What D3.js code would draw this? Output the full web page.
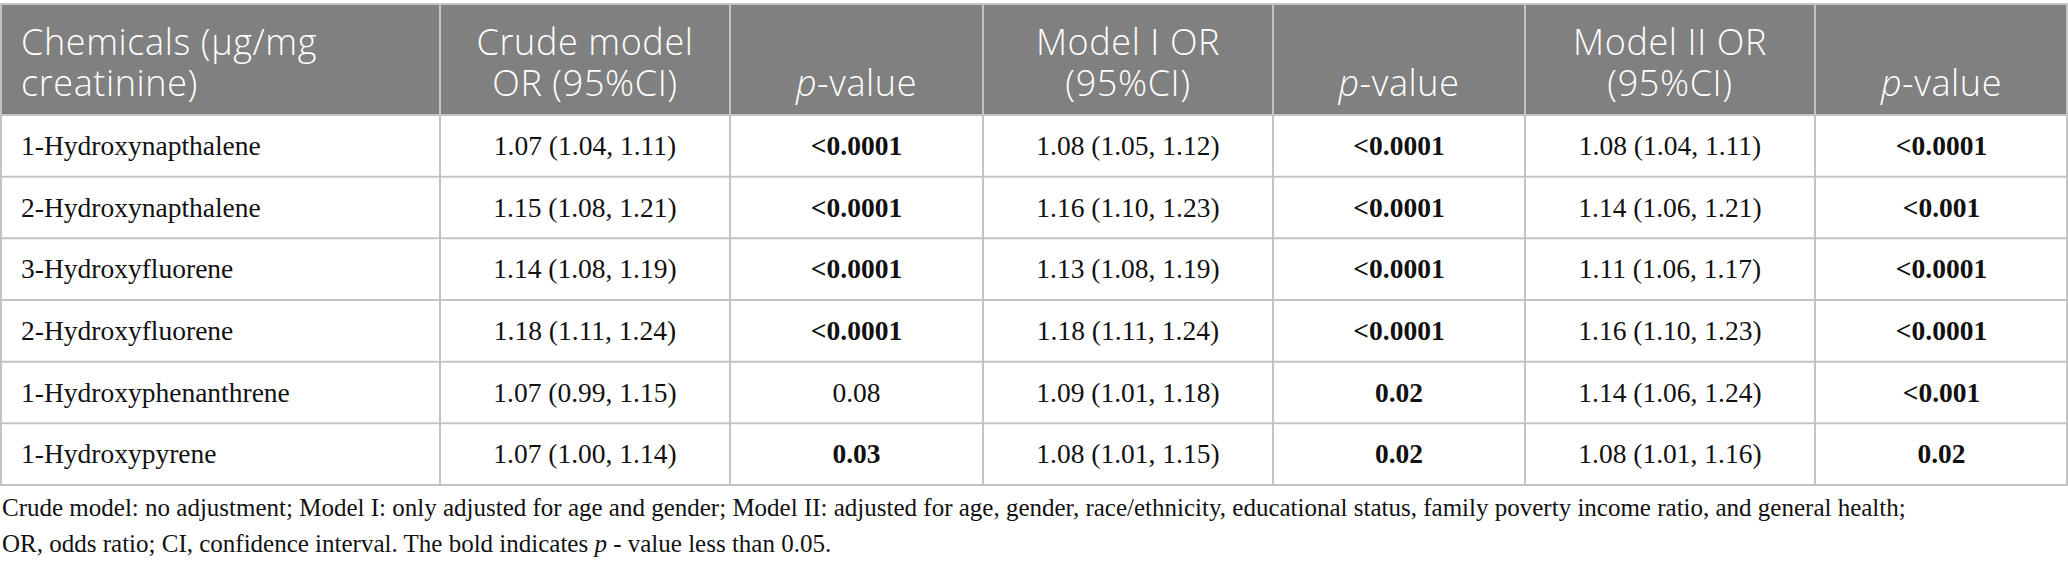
<!DOCTYPE html>
<html>
<head>
<meta charset="utf-8">
<script src="https://cdn.jsdelivr.net/npm/d3@7"></script>
<style>
  body { margin: 0; background: #fff; }
  svg { display: block; }
</style>
</head>
<body>
<svg id="table"></svg>
<script>
// table contents
var chemicals = ["1-Hydroxynapthalene", "2-Hydroxynapthalene", "3-Hydroxyfluorene",
    "2-Hydroxyfluorene", "1-Hydroxyphenanthrene", "1-Hydroxypyrene"];
var crudeOR = ["1.07 (1.04, 1.11)", "1.15 (1.08, 1.21)", "1.14 (1.08, 1.19)",
    "1.18 (1.11, 1.24)", "1.07 (0.99, 1.15)", "1.07 (1.00, 1.14)"];
var crudeP = ["<0.0001", "<0.0001", "<0.0001", "<0.0001", "0.08", "0.03"];
var model1OR = ["1.08 (1.05, 1.12)", "1.16 (1.10, 1.23)", "1.13 (1.08, 1.19)",
    "1.18 (1.11, 1.24)", "1.09 (1.01, 1.18)", "1.08 (1.01, 1.15)"];
var model1P = ["<0.0001", "<0.0001", "<0.0001", "<0.0001", "0.02", "0.02"];
var model2OR = ["1.08 (1.04, 1.11)", "1.14 (1.06, 1.21)", "1.11 (1.06, 1.17)",
    "1.16 (1.10, 1.23)", "1.14 (1.06, 1.24)", "1.08 (1.01, 1.16)"];
var model2P = ["<0.0001", "<0.001", "<0.0001", "<0.0001", "<0.001", "0.02"];

var headers = [
    ["Chemicals (\u00b5g/mg", "creatinine)"],
    ["Crude model", "OR (95%CI)"],
    ["p-value"],
    ["Model I OR", "(95%CI)"],
    ["p-value"],
    ["Model II OR", "(95%CI)"],
    ["p-value"]
];
var footnotes = [
    "Crude model: no adjustment; Model I: only adjusted for age and gender; Model II: adjusted for age, gender, race/ethnicity, educational status, family poverty income ratio, and general health;",
    "OR, odds ratio; CI, confidence interval. The bold indicates p - value less than 0.05."
];

var width = 2068, height = 572;
var colWidths = [440, 290, 253, 290, 252, 290, 253];
var colEdges = d3.cumsum([0].concat(colWidths));

var svg = d3.select("#table")
    .attr("width", width)
    .attr("height", height);

// columns and rows through scales
var cols = d3.range(headers.length);
var x = d3.scaleOrdinal().domain(cols).range(colEdges.slice(0, -1));
var w = d3.scaleOrdinal().domain(cols).range(colWidths);

var headTop = 4, headBottom = 115, tableBottom = 485;
var y = d3.scaleBand()
    .domain(chemicals)
    .range([headBottom, tableBottom]);

var columnsData = [chemicals, crudeOR, crudeP, model1OR, model1P, model2OR, model2P];
var isP = [false, false, true, false, true, false, true];

function significant(s) {
    return parseFloat(s.replace("<", "")) < 0.05;
}

// header background
svg.append("rect")
    .attr("x", 0)
    .attr("y", headTop)
    .attr("width", width)
    .attr("height", headBottom - headTop)
    .attr("fill", "#7f807f");

// header text, one text element per cell, lines as tspans
var lineGap = 41;
svg.selectAll("text.head")
    .data(headers)
    .enter().append("text")
    .attr("class", "head")
    .attr("y", function (d) { return 96 - (d.length - 1) * lineGap; })
    .attr("text-anchor", function (d, i) { return i === 0 ? "start" : "middle"; })
    .attr("fill", "#fff")
    .style("font-family", "'Open Sans', 'Noto Sans', sans-serif")
    .style("font-weight", 300)
    .style("letter-spacing", "0.6px")
    .style("font-size", "36px")
    .each(function (lines, i) {
        var t = d3.select(this);
        var cx = i === 0 ? x(i) + 21 : x(i) + w(i) / 2;
        lines.forEach(function (line, j) {
            var s = t.append("tspan").attr("x", cx).attr("dy", j === 0 ? 0 : lineGap);
            if (line.indexOf("p-") === 0) {
                s.append("tspan").style("font-style", "italic").text("p");
                s.append("tspan").text(line.slice(1));
            } else {
                s.text(line);
            }
        });
    });

// body cells
cols.forEach(function (c) {
    svg.append("g")
        .selectAll("text")
        .data(columnsData[c])
        .enter().append("text")
        .attr("x", c === 0 ? x(c) + 21 : x(c) + w(c) / 2)
        .attr("y", function (d, i) { return y(chemicals[i]) + y.bandwidth() / 2 + 9; })
        .attr("text-anchor", c === 0 ? "start" : "middle")
        .attr("fill", "#111")
        .style("font-family", "'Liberation Serif', 'Times New Roman', serif")
        .style("font-size", "27.5px")
        .style("font-weight", function (d) { return isP[c] && significant(d) ? "bold" : "normal"; })
        .text(function (d) { return d; });
});

// grid lines
var grid = svg.append("g").attr("stroke", "#c4c4c4").attr("stroke-width", 2);

grid.selectAll("line.h")
    .data(chemicals.slice(1))
    .enter().append("line")
    .attr("x1", 0).attr("x2", width)
    .attr("y1", function (d) { return y(d); })
    .attr("y2", function (d) { return y(d); });

grid.append("line").attr("x1", 0).attr("x2", width).attr("y1", headTop).attr("y2", headTop);
grid.append("line").attr("x1", 0).attr("x2", width).attr("y1", headBottom).attr("y2", headBottom);
grid.append("line").attr("x1", 0).attr("x2", width).attr("y1", tableBottom).attr("y2", tableBottom);

grid.selectAll("line.v")
    .data(colEdges)
    .enter().append("line")
    .attr("x1", function (d) { return Math.min(Math.max(d, 1), width - 1); })
    .attr("x2", function (d) { return Math.min(Math.max(d, 1), width - 1); })
    .attr("y1", headTop)
    .attr("y2", tableBottom);

// footnotes
svg.selectAll("text.foot")
    .data(footnotes)
    .enter().append("text")
    .attr("class", "foot")
    .attr("x", 2)
    .attr("y", function (d, i) { return 516 + i * 36; })
    .attr("fill", "#111")
    .style("font-family", "'Liberation Serif', 'Times New Roman', serif")
    .style("font-size", "25px")
    .each(function (d) {
        var t = d3.select(this);
        var k = d.indexOf("p - value");
        if (k < 0) { t.text(d); return; }
        t.append("tspan").text(d.slice(0, k));
        t.append("tspan").style("font-style", "italic").text("p");
        t.append("tspan").text(d.slice(k + 1));
    });
</script>
</body>
</html>
